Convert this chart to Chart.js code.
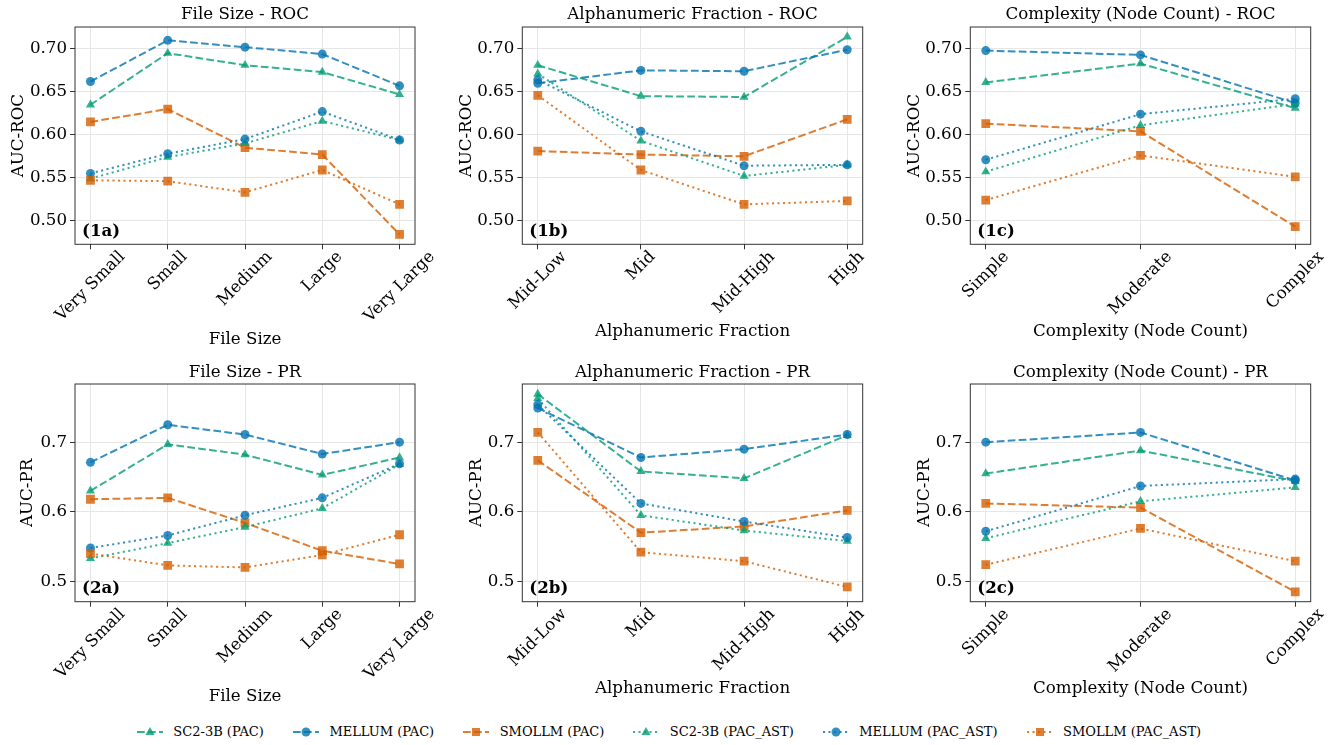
<!DOCTYPE html>
<html>
<head>
<meta charset="utf-8">
<script src="https://cdn.jsdelivr.net/npm/chart.js@4.4.1/dist/chart.umd.min.js"></script>
<style>
  body { margin: 0; background: #fff; width: 1338px; height: 745px; position: relative; overflow: hidden; font-family: "DejaVu Serif", serif; }
  canvas { position: absolute; }
  #legend { position: absolute; left: 0; top: 723px; width: 1338px; display: flex; justify-content: center; font-size: 13px; line-height: 18px; color: #000; }
  .item { display: flex; align-items: center; margin: 0 14.5px; }
  .item svg { margin-right: 10.5px; }
</style>
</head>
<body>
<div id="legend"></div>
<script>
// series + categories
const seriesNames = ['SC2-3B (PAC)', 'MELLUM (PAC)', 'SMOLLM (PAC)', 'SC2-3B (PAC_AST)', 'MELLUM (PAC_AST)', 'SMOLLM (PAC_AST)'];
const fileSizeCats = ['Very Small', 'Small', 'Medium', 'Large', 'Very Large'];
const alphaCats = ['Mid-Low', 'Mid', 'Mid-High', 'High'];
const complexityCats = ['Simple', 'Moderate', 'Complex'];

// y ticks and limits per row
const rocTicks = [0.50, 0.55, 0.60, 0.65, 0.70];
const prTicks = [0.5, 0.6, 0.7];
const rocRange = [0.4725, 0.7255];
const prRange = [0.4708, 0.7836];

// rows: SC2 PAC, MELLUM PAC, SMOLLM PAC, SC2 PAC_AST, MELLUM PAC_AST, SMOLLM PAC_AST
const rocFileSize = [
  [0.635, 0.695, 0.681, 0.673, 0.647],
  [0.662, 0.710, 0.702, 0.694, 0.657],
  [0.615, 0.630, 0.585, 0.577, 0.484],
  [0.549, 0.574, 0.590, 0.616, 0.594],
  [0.555, 0.578, 0.595, 0.627, 0.594],
  [0.547, 0.546, 0.533, 0.559, 0.519]
];
const rocAlpha = [
  [0.681, 0.645, 0.644, 0.714],
  [0.660, 0.675, 0.674, 0.699],
  [0.581, 0.577, 0.575, 0.618],
  [0.671, 0.593, 0.552, 0.565],
  [0.664, 0.604, 0.564, 0.565],
  [0.646, 0.559, 0.519, 0.523]
];
const rocComplexity = [
  [0.661, 0.683, 0.631],
  [0.698, 0.693, 0.637],
  [0.613, 0.604, 0.493],
  [0.557, 0.611, 0.636],
  [0.571, 0.624, 0.642],
  [0.524, 0.576, 0.551]
];
const prFileSize = [
  [0.630, 0.697, 0.682, 0.653, 0.678],
  [0.671, 0.725, 0.711, 0.683, 0.700],
  [0.618, 0.620, 0.584, 0.544, 0.525],
  [0.533, 0.555, 0.578, 0.605, 0.668],
  [0.548, 0.566, 0.595, 0.620, 0.669],
  [0.540, 0.523, 0.520, 0.538, 0.567]
];
const prAlpha = [
  [0.769, 0.658, 0.648, 0.710],
  [0.749, 0.678, 0.690, 0.711],
  [0.674, 0.570, 0.579, 0.602],
  [0.763, 0.595, 0.573, 0.558],
  [0.754, 0.612, 0.586, 0.563],
  [0.714, 0.542, 0.529, 0.492]
];
const prComplexity = [
  [0.655, 0.688, 0.644],
  [0.700, 0.714, 0.645],
  [0.612, 0.606, 0.485],
  [0.562, 0.615, 0.635],
  [0.572, 0.637, 0.647],
  [0.524, 0.576, 0.529]
];

// styles
const modelColors = ['2,158,115', '1,115,178', '213,94,0'];
const markers = ['triangle', 'circle', 'rect'];
const markerRadius = [5.3, 4.5, 6.2];
const dashPAC = [7.7, 3.3];
const dashAST = [2.1, 3.4];
const FONT = '"DejaVu Serif", serif';
const FS = 16.67;

Chart.defaults.font.family = FONT;
Chart.defaults.font.size = FS;
Chart.defaults.color = '#000';

function rgba(c, a) { return `rgba(${c},${a})`; }

const panels = [
  { tag: '(1a)', title: 'File Size - ROC', xTitle: 'File Size', yTitle: 'AUC-ROC', cats: fileSizeCats, values: rocFileSize, yTicks: rocTicks, yRange: rocRange, digits: 2 },
  { tag: '(1b)', title: 'Alphanumeric Fraction - ROC', xTitle: 'Alphanumeric Fraction', yTitle: 'AUC-ROC', cats: alphaCats, values: rocAlpha, yTicks: rocTicks, yRange: rocRange, digits: 2 },
  { tag: '(1c)', title: 'Complexity (Node Count) - ROC', xTitle: 'Complexity (Node Count)', yTitle: 'AUC-ROC', cats: complexityCats, values: rocComplexity, yTicks: rocTicks, yRange: rocRange, digits: 2 },
  { tag: '(2a)', title: 'File Size - PR', xTitle: 'File Size', yTitle: 'AUC-PR', cats: fileSizeCats, values: prFileSize, yTicks: prTicks, yRange: prRange, digits: 1 },
  { tag: '(2b)', title: 'Alphanumeric Fraction - PR', xTitle: 'Alphanumeric Fraction', yTitle: 'AUC-PR', cats: alphaCats, values: prAlpha, yTicks: prTicks, yRange: prRange, digits: 1 },
  { tag: '(2c)', title: 'Complexity (Node Count) - PR', xTitle: 'Complexity (Node Count)', yTitle: 'AUC-PR', cats: complexityCats, values: prComplexity, yTicks: prTicks, yRange: prRange, digits: 1 }
];

// canvas boxes
const boxes = [
  { left: 0,   top: 0,   w: 440, h: 352, yW: 75,   padR: 25,   xH: 107.7, tTop: 5,   tBot: 2,   yPad: 8.3,  xPad: 2 },
  { left: 440, top: 0,   w: 435, h: 352, yW: 82.3, padR: 12.3, xH: 107.7, tTop: 5,   tBot: 2,   yPad: 16.7, xPad: 10.3 },
  { left: 890, top: 0,   w: 448, h: 352, yW: 80.3, padR: 27.3, xH: 107.7, tTop: 5,   tBot: 2,   yPad: 15,   xPad: 10 },
  { left: 0,   top: 355, w: 440, h: 355, yW: 75,   padR: 25,   xH: 108.3, tTop: 7.3, tBot: 1.7, yPad: 18,   xPad: 3.3 },
  { left: 440, top: 355, w: 435, h: 355, yW: 82.3, padR: 12.3, xH: 108.3, tTop: 7.3, tBot: 1.7, yPad: 26.7, xPad: 11.7 },
  { left: 890, top: 355, w: 448, h: 355, yW: 80.3, padR: 27.3, xH: 108.3, tTop: 7.3, tBot: 1.7, yPad: 25,   xPad: 11 }
];

// full box round the plot
const spines = {
  id: 'spines',
  afterDraw(chart) {
    const a = chart.chartArea, ctx = chart.ctx;
    ctx.save();
    ctx.strokeStyle = '#333';
    ctx.lineWidth = 1;
    ctx.strokeRect(a.left, a.top, a.right - a.left, a.bottom - a.top);
    ctx.restore();
  }
};

// x labels rotated 45 deg round their centre
const rotatedTicks = {
  id: 'rotatedTicks',
  afterDraw(chart) {
    const sc = chart.scales.x, ctx = chart.ctx;
    ctx.save();
    ctx.font = `${FS}px ${FONT}`;
    ctx.fillStyle = '#000';
    ctx.textAlign = 'center';
    ctx.textBaseline = 'middle';
    chart.data.labels.forEach((lab, i) => {
      const x = sc.getPixelForValue(i);
      const w = ctx.measureText(lab).width;
      const y = sc.top + 5.7 + 0.7071 * (w + 12) / 2;
      ctx.save();
      ctx.translate(x, y);
      ctx.rotate(-Math.PI / 4);
      ctx.fillText(lab, 0, 0);
      ctx.restore();
    });
    ctx.restore();
  }
};

const panelTag = {
  id: 'panelTag',
  afterDraw(chart, args, opts) {
    const a = chart.chartArea, ctx = chart.ctx;
    ctx.save();
    ctx.font = `bold ${FS}px ${FONT}`;
    ctx.fillStyle = '#000';
    ctx.textAlign = 'left';
    ctx.textBaseline = 'middle';
    ctx.fillText(opts.text, a.left + 7, a.bottom - 13);
    ctx.restore();
  }
};

panels.forEach((p, k) => {
  const b = boxes[k];
  const cv = document.createElement('canvas');
  cv.width = b.w; cv.height = b.h;
  cv.style.left = b.left + 'px'; cv.style.top = b.top + 'px';
  document.body.appendChild(cv);
  const n = p.cats.length;
  const margin = 0.05 * (n - 1);

  new Chart(cv, {
    type: 'line',
    data: {
      labels: p.cats,
      datasets: p.values.map((row, s) => ({
        label: seriesNames[s],
        data: row.map((v, i) => ({ x: i, y: v })),
        borderColor: rgba(modelColors[s % 3], 0.8),
        backgroundColor: rgba(modelColors[s % 3], 0.8),
        borderWidth: 2,
        borderDash: s < 3 ? dashPAC : dashAST,
        pointStyle: markers[s % 3],
        pointRadius: markerRadius[s % 3],
        pointHoverRadius: markerRadius[s % 3],
        pointBorderWidth: 0,
        tension: 0,
        fill: false,
        order: -s
      }))
    },
    options: {
      responsive: false,
      animation: false,
      events: [],
      layout: { padding: { left: 0, right: b.padR, top: 0, bottom: 0 } },
      plugins: {
        legend: { display: false },
        tooltip: { enabled: false },
        title: {
          display: true, text: p.title, fullSize: false, color: '#000',
          font: { size: FS, weight: 'normal' },
          padding: { top: b.tTop, bottom: b.tBot }
        },
        panelTag: { text: p.tag }
      },
      scales: {
        x: {
          type: 'linear',
          min: -margin, max: (n - 1) + margin,
          afterBuildTicks: sc => { sc.ticks = p.cats.map((c, i) => ({ value: i })); },
          afterFit: sc => { sc.height = b.xH; },
          ticks: { display: false },
          grid: { color: '#e6e6e6', lineWidth: 1, drawTicks: true, tickLength: 5, tickColor: '#333', tickWidth: 1 },
          border: { display: false },
          title: { display: true, text: p.xTitle, color: '#000', font: { size: FS }, padding: { top: 0, bottom: b.xPad } }
        },
        y: {
          min: p.yRange[0], max: p.yRange[1],
          afterBuildTicks: sc => { sc.ticks = p.yTicks.map(v => ({ value: v })); },
          afterFit: sc => { sc.width = b.yW; },
          ticks: { padding: 3, color: '#000', font: { size: FS }, callback: v => v.toFixed(p.digits) },
          grid: { color: '#e6e6e6', lineWidth: 1, drawTicks: true, tickLength: 5, tickColor: '#333', tickWidth: 1 },
          border: { display: false },
          title: { display: true, text: p.yTitle, color: '#000', font: { size: FS }, padding: { top: b.yPad, bottom: 0 } }
        }
      }
    },
    plugins: [spines, rotatedTicks, panelTag]
  });
});

// html legend
const legend = document.getElementById('legend');
seriesNames.forEach((name, s) => {
  const c = rgba(modelColors[s % 3], 0.8);
  const dash = (s < 3 ? dashPAC : dashAST).join(',');
  let mk;
  if (markers[s % 3] === 'circle') mk = `<circle cx="13" cy="7" r="4.5" fill="${c}"/>`;
  else if (markers[s % 3] === 'rect') mk = `<rect x="9" y="3" width="8" height="8" fill="${c}"/>`;
  else mk = `<polygon points="13,2 17.6,10 8.4,10" fill="${c}"/>`;
  const item = document.createElement('div');
  item.className = 'item';
  item.innerHTML = `<svg width="26" height="14"><line x1="0" y1="7" x2="26" y2="7" stroke="${c}" stroke-width="2" stroke-dasharray="${dash}"/>${mk}</svg><span>${name}</span>`;
  legend.appendChild(item);
});
</script>
</body>
</html>
